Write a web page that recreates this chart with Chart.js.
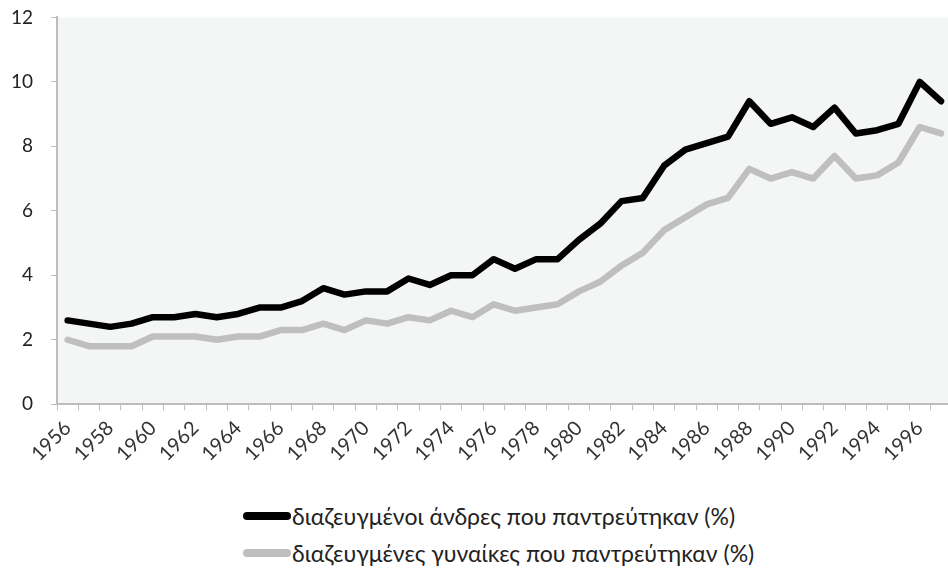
<!DOCTYPE html>
<html>
<head>
<meta charset="utf-8">
<script src="https://cdn.jsdelivr.net/npm/chart.js@4.4.1/dist/chart.umd.min.js"></script>
<style>
  body { margin: 0; background: #fff; overflow: hidden; width: 948px; height: 579px; position: relative; }
  #wrap { position: absolute; left: 0; top: -12px; width: 964px; height: 484px; }
  #legend { position: absolute; left: 243px; top: 497px; font-family: Lato, "Open Sans", sans-serif; font-size: 23px; color: #222; }
  .item { display: flex; align-items: center; height: 37px; }
  .swatch { width: 48px; height: 8px; border-radius: 4px; margin-right: 1px; }
</style>
</head>
<body>
<div id="wrap"><canvas id="divorceChart" width="964" height="484"></canvas></div>
<div id="legend"></div>
<script>
const years = [1956, 1957, 1958, 1959, 1960, 1961, 1962, 1963, 1964, 1965,
    1966, 1967, 1968, 1969, 1970, 1971, 1972, 1973, 1974, 1975,
    1976, 1977, 1978, 1979, 1980, 1981, 1982, 1983, 1984, 1985,
    1986, 1987, 1988, 1989, 1990, 1991, 1992, 1993, 1994, 1995,
    1996, 1997];

const men = [2.6, 2.5, 2.4, 2.5, 2.7, 2.7, 2.8, 2.7, 2.8, 3.0,
    3.0, 3.2, 3.6, 3.4, 3.5, 3.5, 3.9, 3.7, 4.0, 4.0,
    4.5, 4.2, 4.5, 4.5, 5.1, 5.6, 6.3, 6.4, 7.4, 7.9,
    8.1, 8.3, 9.4, 8.7, 8.9, 8.6, 9.2, 8.4, 8.5, 8.7,
    10.0, 9.4];

const women = [2.0, 1.8, 1.8, 1.8, 2.1, 2.1, 2.1, 2.0, 2.1, 2.1,
    2.3, 2.3, 2.5, 2.3, 2.6, 2.5, 2.7, 2.6, 2.9, 2.7,
    3.1, 2.9, 3.0, 3.1, 3.5, 3.8, 4.3, 4.7, 5.4, 5.8,
    6.2, 6.4, 7.3, 7.0, 7.2, 7.0, 7.7, 7.0, 7.1, 7.5,
    8.6, 8.4];

const seriesNames = ['διαζευγμένοι άνδρες που παντρεύτηκαν (%)', 'διαζευγμένες γυναίκες που παντρεύτηκαν (%)'];
const seriesColors = ['#000000', '#bfbfbf'];

// grey fill behind the plot area
const plotBackground = {
    id: 'plotBackground',
    beforeDraw(chart) {
        const { ctx, chartArea } = chart;
        ctx.save();
        ctx.fillStyle = '#f4f6f5';
        ctx.fillRect(chartArea.left, chartArea.top, chartArea.right - chartArea.left, chartArea.bottom - chartArea.top);
        ctx.restore();
    }
};

const ctx = document.getElementById('divorceChart').getContext('2d');
const chart = new Chart(ctx, {
    type: 'line',
    data: {
        labels: years,
        datasets: [men, women].map((values, i) => ({
            label: seriesNames[i],
            data: values,
            borderColor: seriesColors[i],
            backgroundColor: seriesColors[i],
            borderWidth: 6.5,
            pointRadius: 0,
            tension: 0,
            borderJoinStyle: 'round',
            borderCapStyle: 'round'
        }))
    },
    options: {
        responsive: false,
        devicePixelRatio: 1,
        animation: false,
        layout: { padding: 0 },
        plugins: {
            legend: { display: false },
            tooltip: { enabled: false }
        },
        scales: {
            x: {
                offset: true,
                grid: { offset: true, drawOnChartArea: false, color: '#bdbdbd', tickLength: 6 },
                border: { color: '#bdbdbd', width: 2 },
                ticks: {
                    autoSkip: false,
                    maxRotation: 45,
                    minRotation: 45,
                    padding: 6,
                    color: '#333',
                    font: { family: 'Lato', size: 20 },
                    callback: function (value, index) {
                        return index % 2 === 0 ? years[index] : '';
                    }
                }
            },
            y: {
                min: 0,
                max: 12,
                afterFit: function (scale) { scale.width = 57; },
                grid: { drawOnChartArea: false, color: '#bdbdbd', tickLength: 6 },
                border: { color: '#bdbdbd', width: 2 },
                ticks: {
                    stepSize: 2,
                    color: '#222',
                    padding: 18,
                    font: { family: 'Lato', size: 19 }
                }
            }
        }
    },
    plugins: [plotBackground]
});

// legend drawn as html, one series per row like the original
const legendEl = document.getElementById('legend');
seriesNames.forEach((name, i) => {
    const row = document.createElement('div');
    row.className = 'item';
    row.innerHTML = '<span class="swatch" style="background:' + seriesColors[i] + '"></span><span>' + name + '</span>';
    legendEl.appendChild(row);
});
</script>
</body>
</html>
